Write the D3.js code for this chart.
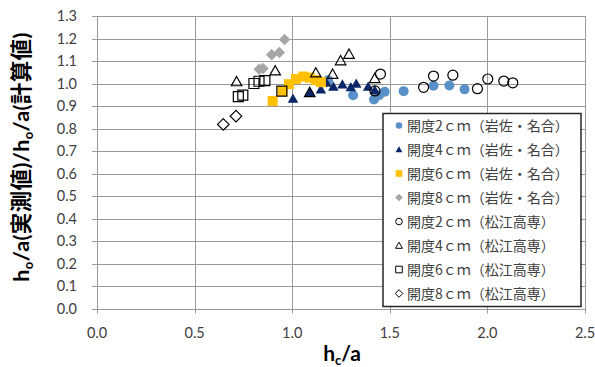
<!DOCTYPE html>
<html>
<head>
<meta charset="utf-8">
<script src="https://cdn.jsdelivr.net/npm/d3@7"></script>
<style>
  html, body { margin: 0; padding: 0; background: #fff; }
  svg text { font-family: Lato, "Noto Sans CJK JP", sans-serif; }
</style>
</head>
<body>
<svg id="chart" width="595" height="367"></svg>
<script>
// series values: [hc/a, ratio]
const iwasa2 = [[1.184, 1.015], [1.312, 0.948], [1.419, 0.929], [1.445, 0.948], [1.474, 0.963],
  [1.571, 0.966], [1.724, 0.990], [1.805, 0.991], [1.883, 0.974]]
const iwasa4 = [[1.004, 0.933], [1.090, 0.962], [1.147, 0.975], [1.175, 1.004], [1.211, 0.987],
  [1.257, 0.997], [1.300, 0.985], [1.328, 1.000], [1.389, 0.987], [1.423, 0.971]]
const iwasa6 = [[0.900, 0.922], [0.950, 0.966], [0.983, 0.997], [1.019, 1.020], [1.057, 1.031],
  [1.090, 1.026], [1.121, 1.015], [1.147, 1.006]]
const iwasa8 = [[0.831, 1.063], [0.850, 1.067], [0.895, 1.128], [0.934, 1.138], [0.961, 1.196]]
const matsue2 = [[1.424, 0.967], [1.452, 1.042], [1.673, 0.983], [1.724, 1.033], [1.823, 1.037],
  [1.949, 0.977], [2.002, 1.020], [2.084, 1.011], [2.130, 1.003]]
const matsue4 = [[0.715, 1.009], [0.913, 1.057], [1.090, 0.961], [1.121, 1.048], [1.207, 1.042],
  [1.248, 1.102], [1.291, 1.131], [1.423, 1.023]]
const matsue6 = [[0.724, 0.942], [0.747, 0.948], [0.804, 1.000], [0.830, 1.010], [0.860, 1.013],
  [0.947, 0.966]]
const matsue8 = [[0.647, 0.818], [0.712, 0.855]]

const xTicks = [0, 0.5, 1.0, 1.5, 2.0, 2.5]
const yTicks = [0, 0.1, 0.2, 0.3, 0.4, 0.5, 0.6, 0.7, 0.8, 0.9, 1.0, 1.1, 1.2, 1.3]

const seriesNames = ["開度2ｃｍ（岩佐・名合）", "開度4ｃｍ（岩佐・名合）", "開度6ｃｍ（岩佐・名合）",
  "開度8ｃｍ（岩佐・名合）", "開度2ｃｍ（松江高専）", "開度4ｃｍ（松江高専）",
  "開度6ｃｍ（松江高専）", "開度8ｃｍ（松江高専）"]

// marker shapes, r = half size
const shapes = {
  circle: r => `M${-r},0A${r},${r} 0 1,0 ${r},0A${r},${r} 0 1,0 ${-r},0Z`,
  triangle: r => `M0,${-r}L${r * 1.05},${r * 0.85}L${-r * 1.05},${r * 0.85}Z`,
  square: r => `M${-r},${-r}H${r}V${r}H${-r}Z`,
  diamond: r => `M0,${-r * 1.15}L${r * 1.15},0L0,${r * 1.15}L${-r * 1.15},0Z`
}

const series = [
  { data: iwasa2, shape: "circle", fill: "#5a90c8", stroke: "none" },
  { data: iwasa4, shape: "triangle", fill: "#0b2767", stroke: "none" },
  { data: iwasa6, shape: "square", fill: "#ffc000", stroke: "none" },
  { data: iwasa8, shape: "diamond", fill: "#a6a6a6", stroke: "none" },
  { data: matsue2, shape: "circle", fill: "none", stroke: "#000" },
  { data: matsue4, shape: "triangle", fill: "none", stroke: "#000" },
  { data: matsue6, shape: "square", fill: "none", stroke: "#000" },
  { data: matsue8, shape: "diamond", fill: "none", stroke: "#000" }
]
series.forEach((s, i) => s.name = seriesNames[i])

const svg = d3.select("#chart")

const x = d3.scaleLinear().domain([0, 2.5]).range([97, 585])
const y = d3.scaleLinear().domain([0, 1.3]).range([308.5, 16])

// gridlines
svg.append("g")
  .selectAll("line")
  .data(yTicks)
  .join("line")
    .attr("x1", x(0) - 5).attr("x2", x(2.5))
    .attr("y1", d => Math.round(y(d)) + 0.5).attr("y2", d => Math.round(y(d)) + 0.5)
    .attr("stroke", "#999")
svg.append("g")
  .selectAll("line")
  .data(xTicks)
  .join("line")
    .attr("x1", d => Math.round(x(d)) + 0.5).attr("x2", d => Math.round(x(d)) + 0.5)
    .attr("y1", y(1.3)).attr("y2", y(0) + 5)
    .attr("stroke", "#999")

// tick labels
svg.append("g")
  .selectAll("text")
  .data(yTicks)
  .join("text")
    .attr("x", 77)
    .attr("y", d => y(d))
    .attr("dy", "0.35em")
    .attr("text-anchor", "end")
    .attr("font-size", 14.5)
    .attr("fill", "#404040")
    .text(d => d.toFixed(1))
svg.append("g")
  .selectAll("text")
  .data(xTicks)
  .join("text")
    .attr("x", d => x(d))
    .attr("y", 333)
    .attr("dy", "0.35em")
    .attr("text-anchor", "middle")
    .attr("font-size", 14.5)
    .attr("fill", "#404040")
    .text(d => d.toFixed(1))

// axis titles
const xt = svg.append("text")
  .attr("x", 342).attr("y", 361)
  .attr("text-anchor", "middle")
  .attr("font-size", 21).attr("font-weight", "bold").attr("fill", "#000")
xt.append("tspan").text("h")
xt.append("tspan").attr("font-size", 13).attr("dy", 4).text("c")
xt.append("tspan").attr("dy", -4).text("/a")

const yt = svg.append("text")
  .attr("transform", "translate(29,157) rotate(-90)")
  .attr("text-anchor", "middle")
  .attr("font-size", 21.5).attr("font-weight", "bold").attr("fill", "#000")
  .attr("letter-spacing", 0.4)
yt.append("tspan").text("h")
yt.append("tspan").attr("font-size", 13).attr("dy", 4).text("o")
yt.append("tspan").attr("dy", -4).text("/a(実測値)/h")
yt.append("tspan").attr("font-size", 13).attr("dy", 4).text("o")
yt.append("tspan").attr("dy", -4).text("/a(計算値)")

// points
series.forEach(s => {
  svg.append("g")
    .selectAll("path")
    .data(s.data)
    .join("path")
      .attr("transform", d => `translate(${x(d[0])},${y(d[1])})`)
      .attr("d", shapes[s.shape](5))
      .attr("fill", s.fill)
      .attr("stroke", s.stroke)
      .attr("stroke-width", 1.2)
})

// legend
const legend = svg.append("g")
legend.append("rect")
  .attr("x", 383).attr("y", 113.5)
  .attr("width", 198).attr("height", 193)
  .attr("fill", "#fff")
  .attr("stroke", "#262626")
  .attr("stroke-width", 1.5)

const rows = legend.selectAll("g.row")
  .data(series)
  .join("g")
    .attr("class", "row")
    .attr("transform", (d, i) => `translate(399,${125.5 + i * 24})`)
rows.append("path")
  .attr("d", d => shapes[d.shape](3.3))
  .attr("fill", d => d.fill)
  .attr("stroke", d => d.stroke)
  .attr("stroke-width", 1)
rows.append("text")
  .attr("x", 8)
  .attr("dy", "0.36em")
  .attr("font-size", 14)
  .attr("fill", "#404040")
  .style("font-family", "'Noto Sans CJK JP', sans-serif")
  .text(d => d.name)
</script>
</body>
</html>
